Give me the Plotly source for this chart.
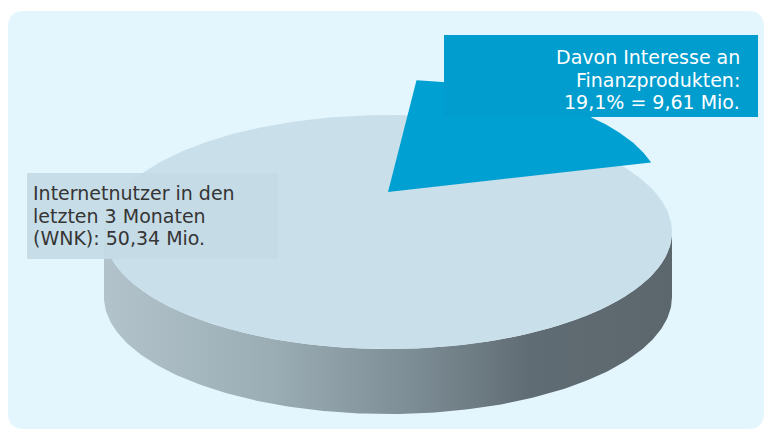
import numpy as np
import plotly.graph_objects as go

# ---------------- data ----------------
total_mio = 50.34          # Internetnutzer in den letzten 3 Monaten (WNK)
part_mio = 9.61            # davon Interesse an Finanzprodukten
share_pct = 19.1           # percent shown in label
label_total_lines = ["Internetnutzer in den", "letzten 3 Monaten",
                     "(WNK): 50,34 Mio."]
label_part_lines = ["Davon Interesse an", "Finanzprodukten:",
                    "19,1% = 9,61 Mio."]

# ---------------- geometry / style ----------------
W, H = 767, 434
cx, cy = 388, 232          # centre of pie top (pixels)
rx, ry = 284, 117          # ellipse radii
depth = 65                 # thickness of the pie
lift = 40                  # how far the slice is raised
slice_scale = 0.96         # slight perspective shrink of raised slice
start_deg = 84             # counter-clockwise edge of slice

bg_color = "#e3f6fd"
top_color = "#c9dfea"
slice_color = "#00a0d2"
box_color = "#009dce"
side_scale = [[0, "#b2c3cb"], [0.3, "#9aacb4"], [0.55, "#7c8c94"],
              [0.75, "#606c73"], [1, "#5c676d"]]
font_family = "DejaVu Sans, Verdana, sans-serif"
font_size = 19


def ell(theta_deg, ox=cx, oy=cy, k=1.0):
    t = np.radians(theta_deg)
    return ox + k * rx * np.cos(t), oy - k * ry * np.sin(t)


fig = go.Figure()

# side band (front half of the cylinder)
th = np.linspace(180, 360, 200)
xt, yt = ell(th)
xb, yb = ell(th[::-1])
fig.add_trace(go.Scatter(
    x=np.concatenate([xt, xb]), y=np.concatenate([yt, yb + depth]),
    mode="lines", line=dict(width=0), fill="toself",
    fillgradient=dict(type="horizontal", colorscale=side_scale),
    hoverinfo="skip"))

# top surface of the whole pie
th_all = np.linspace(0, 360, 400)
xa, ya = ell(th_all)
fig.add_trace(go.Scatter(x=xa, y=ya, mode="lines", line=dict(width=0),
                         fill="toself", fillcolor=top_color, hoverinfo="skip"))

# raised slice: angular span derived from the data
span = 360.0 * part_mio / total_mio
th_s = np.linspace(start_deg - span, start_deg, 120)
xs, ys = ell(th_s, cx, cy - lift, slice_scale)
fig.add_trace(go.Scatter(
    x=np.concatenate([[cx], xs, [cx]]),
    y=np.concatenate([[cy - lift], ys, [cy - lift]]),
    mode="lines", line=dict(width=0), fill="toself",
    fillcolor=slice_color, hoverinfo="skip"))

shapes = [
    # rounded light-blue panel
    dict(type="path", layer="below", line=dict(width=0), fillcolor=bg_color,
         xref="x", yref="y",
         path="M 24 11 L 748 11 Q 764 11 764 27 L 764 413 Q 764 429 748 429 "
              "L 24 429 Q 8 429 8 413 L 8 27 Q 8 11 24 11 Z"),
    # label box left
    dict(type="rect", xref="x", yref="y", x0=27, x1=278, y0=173, y1=259,
         line=dict(width=0), fillcolor="rgba(196,219,230,0.92)", layer="above"),
    # label box right
    dict(type="rect", xref="x", yref="y", x0=444, x1=758, y0=35, y1=117,
         line=dict(width=0), fillcolor=box_color, layer="above"),
]

annotations = []
left_centers = [193, 215.5, 238]
for line, yc in zip(label_total_lines, left_centers):
    annotations.append(dict(
        x=32, y=yc, xref="x", yref="y", xanchor="left", yanchor="middle",
        text=line, showarrow=False, align="left", borderpad=0,
        font=dict(family=font_family, size=font_size, color="#353535")))
right_centers = [57, 79.5, 102]
for line, yc in zip(label_part_lines, right_centers):
    annotations.append(dict(
        x=741, y=yc, xref="x", yref="y", xanchor="right", yanchor="middle",
        text=line, showarrow=False, align="right", borderpad=0,
        font=dict(family=font_family, size=font_size, color="#ffffff")))

fig.update_layout(
    width=W, height=H, margin=dict(l=0, r=0, t=0, b=0),
    paper_bgcolor="white", plot_bgcolor="white", showlegend=False,
    shapes=shapes, annotations=annotations, hovermode=False,
    xaxis=dict(range=[0, W], visible=False, fixedrange=True),
    yaxis=dict(range=[H, 0], visible=False, fixedrange=True),
)

fig.write_html("out.html", config={"displayModeBar": False})
